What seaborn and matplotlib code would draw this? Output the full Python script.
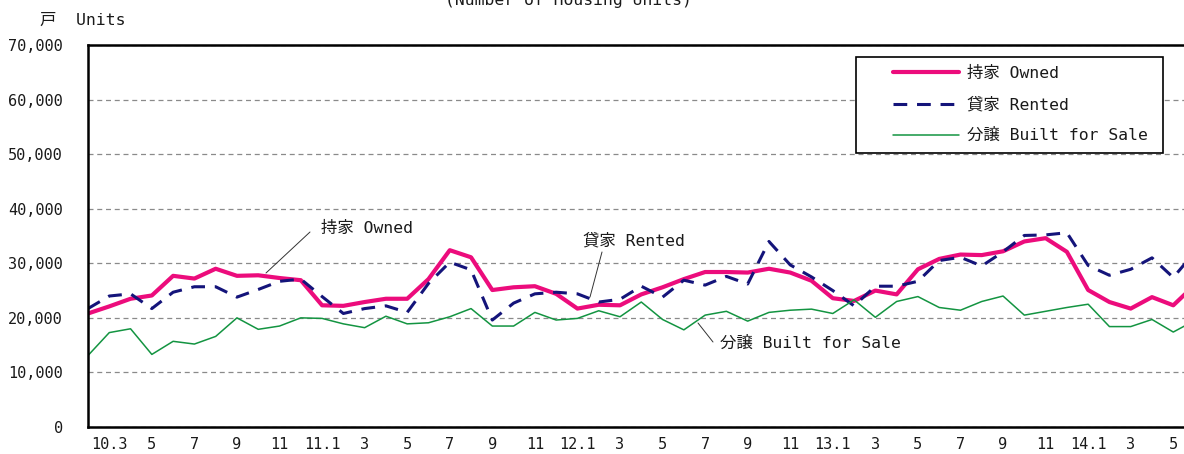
import numpy as np
import pandas as pd
import matplotlib
matplotlib.use('Agg')
import matplotlib.pyplot as plt
import seaborn as sns
from matplotlib.patches import Rectangle
from matplotlib.ticker import FuncFormatter, FixedLocator

# monthly housing starts, Feb 2010 .. Jun 2014 (thousand units)
month_labels = ['', '10.3', '', '5', '', '7', '', '9', '', '11', '',
                '11.1', '', '3', '', '5', '', '7', '', '9', '', '11', '',
                '12.1', '', '3', '', '5', '', '7', '', '9', '', '11', '',
                '13.1', '', '3', '', '5', '', '7', '', '9', '', '11', '',
                '14.1', '', '3', '', '5', '']

owned = [20.8, 22.1, 23.5, 24.1, 27.7, 27.2, 29.0, 27.7, 27.8, 27.3, 26.9,
         22.3, 22.2, 22.9, 23.5, 23.5, 27.1, 32.4, 31.1, 25.1, 25.6, 25.8, 24.4,
         21.7, 22.4, 22.3, 24.3, 25.6, 27.1, 28.4, 28.4, 28.3, 29.0, 28.3, 26.8,
         23.6, 23.1, 25.0, 24.3, 28.9, 30.8, 31.6, 31.5, 32.2, 34.0, 34.6, 32.1,
         25.1, 22.9, 21.7, 23.8, 22.3, 26.0]

rented = [21.7, 24.0, 24.4, 21.7, 24.7, 25.7, 25.7, 23.8, 25.2, 26.7, 27.1,
          23.9, 20.8, 21.7, 22.2, 21.0, 26.3, 30.2, 28.8, 19.6, 22.7, 24.4, 24.7,
          24.4, 22.9, 23.4, 25.8, 23.8, 26.9, 26.0, 27.6, 26.2, 34.0, 29.7, 27.5,
          25.0, 22.2, 25.8, 25.8, 26.7, 30.5, 31.1, 29.5, 32.1, 35.1, 35.2, 35.6,
          29.6, 27.8, 28.9, 31.0, 27.4, 32.0]

for_sale = [13.1, 17.3, 18.0, 13.3, 15.7, 15.2, 16.6, 20.0, 17.9, 18.5, 20.0,
            19.9, 18.9, 18.2, 20.3, 18.9, 19.1, 20.2, 21.7, 18.5, 18.5, 21.0, 19.6,
            19.9, 21.3, 20.2, 22.9, 19.7, 17.8, 20.5, 21.2, 19.4, 21.0, 21.4, 21.6,
            20.8, 23.3, 20.1, 23.0, 23.9, 21.9, 21.4, 23.0, 24.0, 20.5, 21.2, 21.9,
            22.5, 18.4, 18.4, 19.7, 17.4, 19.5]

series_names = ['持家 Owned', '貸家 Rented', '分譲 Built for Sale']
colors = ['#EC0C7C', '#14147A', '#139441']

sns.set_style('white')
plt.rcParams['font.family'] = ['DejaVu Sans Mono', 'Noto Sans CJK JP']
plt.rcParams['text.color'] = '#1a1a1a'

W, H = 1184, 454
fig = plt.figure(figsize=(W / 100, H / 100), dpi=100)
step = 21.28
ax = fig.add_axes([88 / W, 27 / H, 1096 / W, 382 / H])

idx = np.arange(len(month_labels))
df = pd.DataFrame({'idx': idx,
                   'owned': np.array(owned) * 1000,
                   'rented': np.array(rented) * 1000,
                   'sale': np.array(for_sale) * 1000})

sns.lineplot(data=df, x='idx', y='owned', ax=ax, color=colors[0], lw=3.0,
             label=series_names[0], solid_joinstyle='round')
sns.lineplot(data=df, x='idx', y='rented', ax=ax, color=colors[1], lw=2.2,
             linestyle=(0, (4.5, 3.2)), label=series_names[1])
sns.lineplot(data=df, x='idx', y='sale', ax=ax, color=colors[2], lw=1.1,
             label=series_names[2])

ax.set_xlim(0, 1096 / step)
ax.set_ylim(0, 70000)
ax.set_xlabel('')
ax.set_ylabel('')

# y axis
ax.set_yticks(np.arange(0, 70001, 10000))
ax.yaxis.set_major_formatter(FuncFormatter(lambda v, p: f'{v:,.0f}'))
ax.tick_params(axis='y', direction='in', length=3, width=1, pad=18,
               labelsize=11, colors='black', labelcolor='#1a1a1a')
ax.yaxis.grid(True, color='#8a8a8a', linestyle=(0, (4, 3)), lw=0.9)
ax.xaxis.grid(False)
ax.set_axisbelow(True)

# x axis: month ticks inside, year ticks crossing
ax.xaxis.set_major_locator(FixedLocator(idx))
ax.set_xticklabels(month_labels)
ax.tick_params(axis='x', which='major', direction='in', length=4.5, width=1,
               pad=7, labelsize=11, colors='black', labelcolor='#1a1a1a')
year_idx = [i for i, s in enumerate(month_labels) if s.endswith('.1')]
ax.xaxis.remove_overlapping_locs = False
ax.xaxis.set_minor_locator(FixedLocator(year_idx))
ax.tick_params(axis='x', which='minor', direction='inout', length=10, width=1.2,
               colors='black')

for side in ['left', 'bottom', 'top']:
    ax.spines[side].set_color('black')
    ax.spines[side].set_linewidth(1.8)
ax.spines['right'].set_visible(False)

# legend with a plain black box
leg = ax.legend(loc='upper left', bbox_to_anchor=(893 / W, 1 - 66 / H),
                bbox_transform=fig.transFigure, frameon=False, fontsize=11.8,
                handlelength=4.0, handletextpad=0.5, labelspacing=0.96,
                borderpad=0, borderaxespad=0)
leg.set_zorder(6)
for t in leg.get_texts():
    t.set_color('#1a1a1a')
ax.add_patch(Rectangle((856 / W, 1 - 153 / H), (1163 - 856) / W, 96 / H,
                       transform=fig.transFigure, facecolor='white',
                       edgecolor='black', lw=1.2, zorder=5, clip_on=False))

# leader-line labels
def px2data(x, y):
    return (x - 88) / step, (427 - y) / 382 * 70000

notes = [(series_names[0], (321, 228), (310, 232), (266, 273)),
         (series_names[1], (583, 241), (602, 252), (590, 297)),
         (series_names[2], (720, 343), (713, 342), (698, 323))]
for text, tpos, p0, p1 in notes:
    ax.text(*px2data(*tpos), text, fontsize=11.8, va='center', ha='left')
    ax.annotate('', xy=px2data(*p1), xytext=px2data(*p0),
                arrowprops=dict(arrowstyle='-', lw=0.7, color='#333333',
                                shrinkA=0, shrinkB=0))

fig.text(40 / W, 1 - 20 / H, '戸  Units', fontsize=11.8, va='center', ha='left')
fig.text(568 / W, 1 - 5 / H, '(Number of Housing Units)', fontsize=11.8,
         va='baseline', ha='center')

fig.savefig('out.png', dpi=100)
